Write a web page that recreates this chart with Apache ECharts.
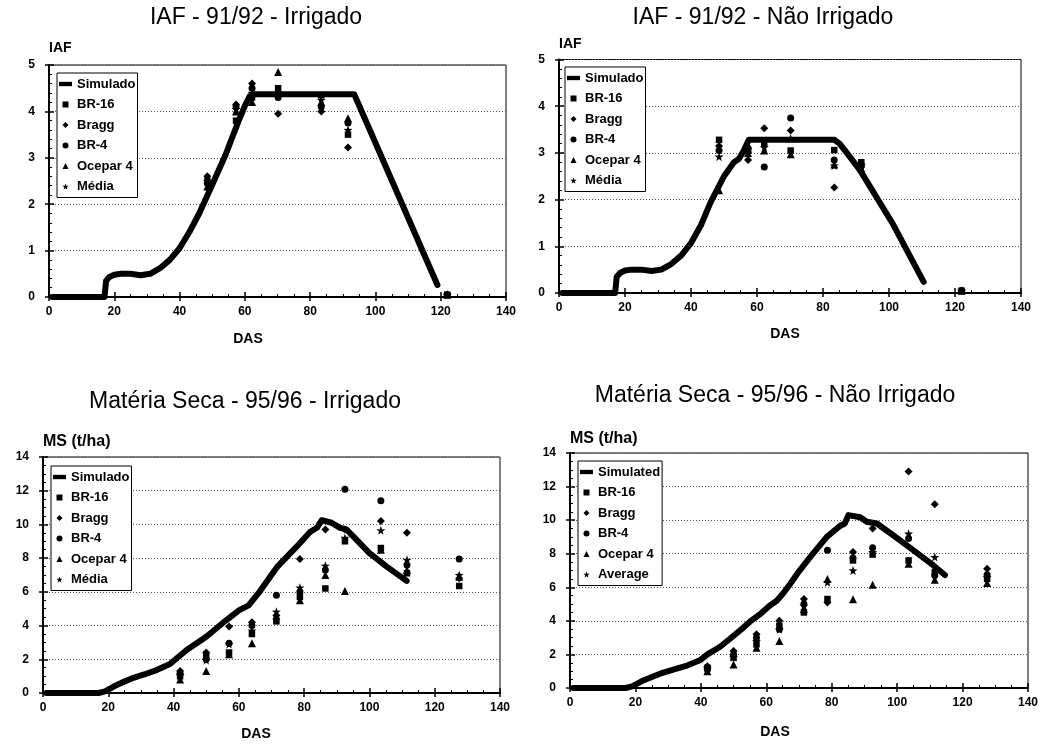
<!DOCTYPE html>
<html><head><meta charset="utf-8">
<script src="https://cdn.jsdelivr.net/npm/echarts@6/dist/echarts.min.js"></script>
<style>html,body{margin:0;padding:0;background:#fff}#c{width:1042px;height:747px}</style>
</head><body><div id="c"></div>
<script>
// ---------- text ----------
const titles = ['IAF - 91/92 - Irrigado', 'IAF - 91/92 - Não Irrigado', 'Matéria Seca - 95/96 - Irrigado', 'Matéria Seca - 95/96 - Não Irrigado'];
const yNames = ['IAF', 'IAF', 'MS (t/ha)', 'MS (t/ha)'];
const xName = 'DAS';
const legendNamesPt = ['Simulado', 'BR-16', 'Bragg', 'BR-4', 'Ocepar 4', 'Média'];
const legendNamesEn = ['Simulated', 'BR-16', 'Bragg', 'BR-4', 'Ocepar 4', 'Average'];
const xTicks = [0, 20, 40, 60, 80, 100, 120, 140];
const yTicksIAF = [0, 1, 2, 3, 4, 5];
const yTicksMS = [0, 2, 4, 6, 8, 10, 12, 14];

// ---------- Panel 1: IAF 91/92 irrigado ----------
const iafIrrSimDAS = [1, 17, 17.5, 18.5, 20, 22, 25, 28, 31, 34, 37, 40, 43, 46, 50, 54, 58, 60, 61.5, 62.5, 93.5, 119];
const iafIrrSimVal = [0, 0, 0.35, 0.43, 0.48, 0.5, 0.5, 0.47, 0.5, 0.62, 0.8, 1.05, 1.4, 1.8, 2.42, 3.05, 3.78, 4.12, 4.33, 4.37, 4.37, 0.26];
const iafIrrDAS = [48.5, 57.3, 62.2, 70.2, 83.4, 91.6, 122];
const iafIrrBR16 = [2.5, 3.8, 4.3, 4.5, 4.35, 3.5, 0.05];
const iafIrrBragg = [2.6, 4.15, 4.6, 3.95, 4.0, 3.22, 0.05];
const iafIrrBR4 = [2.45, 4.1, 4.5, 4.3, 4.1, 3.75, 0.05];
const iafIrrOcepar = [2.38, 4.0, 4.2, 4.85, 4.2, 3.85, 0.05];
const iafIrrMedia = [2.5, 4.05, 4.4, 4.4, 4.25, 3.6, 0.05];

// ---------- Panel 2: IAF 91/92 nao irrigado ----------
const iafSecSimDAS = [1, 17, 17.5, 18.5, 20, 22, 25, 28, 31, 34, 37, 40, 43, 46, 50, 53, 54.5, 56, 57.5, 83.5, 85, 87, 91.2, 101, 110.5];
const iafSecSimVal = [0, 0, 0.35, 0.43, 0.48, 0.5, 0.5, 0.47, 0.5, 0.62, 0.8, 1.07, 1.45, 1.95, 2.5, 2.8, 2.87, 3.05, 3.28, 3.28, 3.2, 3.02, 2.63, 1.5, 0.24];
const iafSecDAS = [48.5, 57.3, 62.2, 70.2, 83.4, 91.6, 122];
const iafSecBR16 = [3.28, 3.05, 3.2, 3.05, 3.06, 2.8, 0.05];
const iafSecBragg = [3.15, 2.85, 3.53, 3.48, 2.26, 2.7, 0.05];
const iafSecBR4 = [3.05, 3.1, 2.7, 3.75, 2.85, 2.75, 0.05];
const iafSecOcepar = [2.2, 3.0, 3.05, 2.97, 2.75, 2.67, 0.05];
const iafSecMedia = [2.92, 3.0, 3.12, 3.31, 2.73, 2.73, 0.05];

// ---------- Panel 3: MS 95/96 irrigado ----------
const msIrrSimDAS = [1, 17, 19, 21.5, 24, 27.7, 31, 34.8, 38.9, 44, 50, 56, 60, 63, 66.5, 71.6, 77.7, 81.8, 83.9, 85.4, 88.4, 91, 93, 96, 100, 105.3, 111.4];
const msIrrSimVal = [0, 0, 0.1, 0.37, 0.6, 0.9, 1.1, 1.36, 1.72, 2.55, 3.34, 4.3, 4.9, 5.2, 6.05, 7.45, 8.68, 9.55, 9.8, 10.25, 10.1, 9.8, 9.7, 9.1, 8.3, 7.5, 6.65];
const msIrrDAS = [42, 50, 57, 64, 71.5, 78.7, 86.5, 92.5, 103.5, 111.5, 127.5];
const msIrrBR16 = [1.0, 2.2, 2.4, 3.5, 4.25, 5.7, 6.2, 9.0, 8.6, 7.1, 6.35];
const msIrrBragg = [1.3, 2.4, 3.95, 4.2, 4.6, 7.95, 9.7, 9.7, 10.2, 9.5, 6.8];
const msIrrBR4 = [1.15, 2.0, 2.95, 4.0, 5.8, 6.0, 7.3, 12.08, 11.4, 7.6, 7.95];
const msIrrOcepar = [0.8, 1.3, 2.3, 2.95, 4.6, 5.5, 7.0, 6.05, 8.5, 7.3, 6.9];
const msIrrMedia = [1.05, 1.95, 2.9, 3.7, 4.82, 6.25, 7.55, 9.2, 9.65, 7.9, 7.0];

// ---------- Panel 4: MS 95/96 nao irrigado ----------
const msSecSimDAS = [1, 17, 19, 22.4, 27.5, 32.6, 36, 39.7, 42, 45.9, 49, 53, 55, 58.1, 61, 63.2, 65, 67.3, 70, 73.4, 78.5, 82.5, 84, 85.1, 88.7, 90.7, 93.8, 98.8, 105, 111.1, 114.6];
const msSecSimVal = [0, 0, 0.1, 0.45, 0.85, 1.15, 1.35, 1.65, 2.0, 2.46, 2.95, 3.6, 3.95, 4.4, 4.9, 5.2, 5.6, 6.2, 6.95, 7.8, 9.0, 9.65, 9.8, 10.3, 10.17, 9.9, 9.8, 9.1, 8.2, 7.3, 6.73];
const msSecDAS = [42, 50, 57, 64, 71.5, 78.7, 86.5, 92.5, 103.5, 111.5, 127.5];
const msSecBR16 = [1.2, 1.8, 2.6, 3.7, 4.5, 5.3, 7.6, 7.95, 7.6, 6.9, 6.5];
const msSecBragg = [1.3, 2.2, 3.2, 4.0, 5.3, 5.1, 8.1, 9.5, 12.9, 10.95, 7.1];
const msSecBR4 = [1.1, 2.0, 3.0, 3.5, 5.0, 8.2, 7.75, 8.35, 8.9, 6.7, 6.75];
const msSecOcepar = [1.0, 1.4, 2.4, 2.8, 4.7, 6.5, 5.28, 6.15, 7.4, 6.45, 6.25];
const msSecMedia = [1.15, 1.85, 2.8, 3.5, 4.9, 6.3, 7.0, 8.1, 9.2, 7.8, 6.6];

// ---------- styling / layout ----------
const FONT = '"Liberation Sans", Arial, sans-serif';
const STAR = 'path://M0,-10L2.35,-3.24L9.51,-3.09L3.8,1.24L5.88,8.09L0,4L-5.88,8.09L-3.8,1.24L-9.51,-3.09L-2.35,-3.24Z';
const seriesSymbols = ['rect', 'diamond', 'circle', 'triangle', STAR];
const seriesSizes = [6.5, 8, 7, 8, 9];
const legendIcons = [
  'path://M0,0H30V10H0Z',
  'path://M0,0H10V10H0Z',
  'path://M5,0L10,5L5,10L0,5Z',
  'path://M10,5A5,5,0,1,1,0,5A5,5,0,1,1,10,5Z',
  'path://M5,0L10,10H0Z',
  'path://M0,-10L2.35,-3.24L9.51,-3.09L3.8,1.24L5.88,8.09L0,4L-5.88,8.09L-3.8,1.24L-9.51,-3.09L-2.35,-3.24Z'
];

const panels = [
  { sim: [iafIrrSimDAS, iafIrrSimVal], das: iafIrrDAS, vals: [iafIrrBR16, iafIrrBragg, iafIrrBR4, iafIrrOcepar, iafIrrMedia], names: legendNamesPt, yTicks: yTicksIAF, ySplit: 5,
    grid: { left: 49, top: 65, width: 457, height: 232 }, legend: { left: 57, top: 73 }, title: { x: 256, y: 6 }, dasShift: 59, dasGap: 35, yNameGap: 10 },
  { sim: [iafSecSimDAS, iafSecSimVal], das: iafSecDAS, vals: [iafSecBR16, iafSecBragg, iafSecBR4, iafSecOcepar, iafSecMedia], names: legendNamesPt, yTicks: yTicksIAF, ySplit: 5,
    grid: { left: 559, top: 59.5, width: 462, height: 233.5 }, legend: { left: 565, top: 67 }, title: { x: 763, y: 6 }, dasShift: 10, dasGap: 34, yNameGap: 8 },
  { sim: [msIrrSimDAS, msIrrSimVal], das: msIrrDAS, vals: [msIrrBR16, msIrrBragg, msIrrBR4, msIrrOcepar, msIrrMedia], names: legendNamesPt, yTicks: yTicksMS, ySplit: 4,
    grid: { left: 43, top: 457, width: 457, height: 236 }, legend: { left: 51, top: 466 }, title: { x: 245, y: 390 }, dasShift: 31, dasGap: 34, yNameGap: 7 },
  { sim: [msSecSimDAS, msSecSimVal], das: msSecDAS, vals: [msSecBR16, msSecBragg, msSecBR4, msSecOcepar, msSecMedia], names: legendNamesEn, yTicks: yTicksMS, ySplit: 4,
    grid: { left: 570, top: 453, width: 458, height: 235 }, legend: { left: 578, top: 461 }, title: { x: 775, y: 384 }, dasShift: 48, dasGap: 37, yNameGap: 6 }
];

const option = { animation: false, backgroundColor: '#fff', title: [], grid: [], xAxis: [], yAxis: [], legend: [], series: [] };

panels.forEach((p, i) => {
  option.title.push({ text: titles[i], left: p.title.x, top: p.title.y, textAlign: 'center', padding: 0,
    textStyle: { fontFamily: FONT, fontSize: 23, fontWeight: 'normal', color: '#000' } });
  option.grid.push(Object.assign({ show: true, borderColor: '#000', borderWidth: 1, backgroundColor: 'transparent', containLabel: false, outerBoundsMode: 'none' }, p.grid));

  const xMin = xTicks[0];
  const xMax = xTicks[xTicks.length - 1];
  const xInt = xTicks[1] - xTicks[0];
  const yMin = p.yTicks[0], yMax = p.yTicks[p.yTicks.length - 1], yInt = p.yTicks[1] - p.yTicks[0];

  option.xAxis.push({ type: 'value', gridIndex: i, position: 'bottom', min: xMin, max: xMax, interval: xInt,
    name: xName, nameLocation: 'middle', nameGap: p.dasGap,
    nameTextStyle: { fontFamily: FONT, fontSize: 14, fontWeight: 'bold', color: '#000', padding: [0, p.dasShift, 0, 0] },
    axisLine: { show: true, onZero: false, lineStyle: { color: '#000', width: 2 } },
    axisTick: { show: true, inside: true, length: 5, lineStyle: { color: '#000', width: 1.5 } },
    minorTick: { show: true, splitNumber: 4, length: 3, lineStyle: { color: '#000', width: 1 } },
    axisLabel: { show: true, margin: 9, fontFamily: FONT, fontSize: 12, fontWeight: 'bold', color: '#000', showMinLabel: true, showMaxLabel: true, hideOverlap: false },
    splitLine: { show: false }, minorSplitLine: { show: false } });
  option.xAxis.push({ type: 'value', gridIndex: i, position: 'bottom', min: xMin, max: xMax, interval: xInt,
    axisLine: { show: false, onZero: false }, axisTick: { show: true, inside: false, length: 4, lineStyle: { color: '#000', width: 1.5 } },
    axisLabel: { show: false }, splitLine: { show: false } });

  option.yAxis.push({ type: 'value', gridIndex: i, position: 'left', min: yMin, max: yMax, interval: yInt,
    name: yNames[i], nameLocation: 'end', nameGap: p.yNameGap,
    nameTextStyle: { fontFamily: FONT, fontSize: i < 2 ? 14 : 16, fontWeight: 'bold', color: '#000', align: 'left', verticalAlign: 'bottom' },
    axisLine: { show: true, onZero: false, lineStyle: { color: '#000', width: 2 } },
    axisTick: { show: true, inside: true, length: 5, lineStyle: { color: '#000', width: 1.5 } },
    minorTick: { show: true, splitNumber: p.ySplit, length: 3, lineStyle: { color: '#000', width: 1 } },
    axisLabel: { show: true, margin: 14, fontFamily: FONT, fontSize: 12, fontWeight: 'bold', color: '#000', showMinLabel: true, showMaxLabel: true, hideOverlap: false },
    splitLine: { show: true, lineStyle: { color: '#555', width: 1, type: [1, 2] } }, minorSplitLine: { show: false } });
  option.yAxis.push({ type: 'value', gridIndex: i, position: 'left', min: yMin, max: yMax, interval: yInt,
    axisLine: { show: false, onZero: false }, axisTick: { show: true, inside: false, length: 4, lineStyle: { color: '#000', width: 1.5 } },
    axisLabel: { show: false }, splitLine: { show: false } });

  const xa = 2 * i, ya = 2 * i;
  option.series.push({ name: p.names[0], type: 'line', xAxisIndex: xa, yAxisIndex: ya,
    data: p.sim[0].map((d, k) => [d, p.sim[1][k]]), showSymbol: false, symbol: 'none', smooth: false,
    lineStyle: { color: '#000', width: 6, cap: 'round', join: 'round' }, itemStyle: { color: '#000' }, z: 2 });
  p.vals.forEach((arr, s) => {
    option.series.push({ name: p.names[s + 1], type: 'scatter', xAxisIndex: xa, yAxisIndex: ya,
      data: p.das.map((d, k) => [d, arr[k]]), symbol: seriesSymbols[s], symbolSize: seriesSizes[s],
      itemStyle: { color: '#000', opacity: 1 }, z: 3 });
  });

  option.legend.push({ show: true, orient: 'vertical', left: p.legend.left, top: p.legend.top,
    padding: [4, 2, 4, 2], itemGap: 6.5, itemWidth: 13, itemHeight: 6, symbolKeepAspect: true,
    borderColor: '#000', borderWidth: 1, backgroundColor: '#fff', selectedMode: false,
    textStyle: { fontFamily: FONT, fontSize: 13, fontWeight: 'bold', color: '#000', lineHeight: 14 },
    data: p.names.map((n, k) => ({ name: n, icon: legendIcons[k], itemStyle: { color: '#000', borderWidth: 0 } })) });
});

const chart = echarts.init(document.getElementById('c'), null, { renderer: 'canvas' });
chart.setOption(option);
</script></body></html>
